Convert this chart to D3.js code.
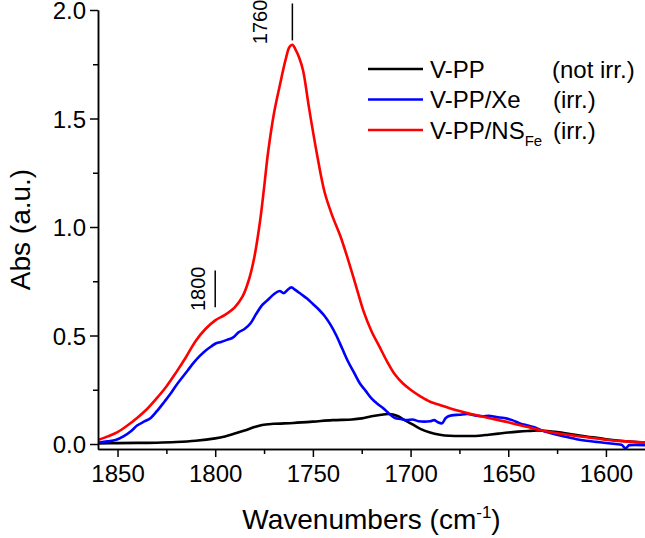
<!DOCTYPE html>
<html>
<head>
<meta charset="utf-8">
<script src="https://cdn.jsdelivr.net/npm/d3@7/dist/d3.min.js"></script>
<style>
  html, body { margin: 0; padding: 0; background: #fff; }
  svg { display: block; }
  text { font-family: "Liberation Sans", Arial, sans-serif; fill: #000; }
</style>
</head>
<body>
<svg id="chart" width="645" height="538"></svg>
<script>
// ---- data ----
const wavenumbersBlack = [1860,1850,1840,1830,1820,1810,1800,1795,1790,1785,1780,1776,1770,1760,1750,1740,1730,1725,1720,1715,1711,1707,1703,1699,1695,1690,1685,1680,1670,1665,1660,1655,1650,1645,1640,1635,1630,1625,1620,1610,1600,1590,1580];
const absBlack =        [0.003,0.004,0.005,0.006,0.009,0.015,0.026,0.035,0.048,0.062,0.078,0.088,0.093,0.097,0.103,0.110,0.113,0.118,0.128,0.135,0.138,0.130,0.110,0.090,0.070,0.053,0.043,0.038,0.037,0.038,0.043,0.048,0.053,0.057,0.060,0.062,0.060,0.055,0.048,0.035,0.022,0.013,0.007];

const wavenumbersBlue = [1860,1855,1851,1847,1843,1840,1836,1833,1830,1826,1823,1820,1817,1814,1811,1808,1805,1802,1800,1797,1794,1791,1788,1785,1782,1779,1776,1773,1770,1767,1765,1763,1761,1759,1756,1753,1750,1747,1744,1741,1738,1735,1732,1729,1726,1723,1720,1717,1714,1711,1708,1705,1702,1699,1696,1693,1690,1688,1686,1684,1682,1679,1675,1671,1667,1663,1660,1656,1652,1648,1644,1640,1636,1632,1628,1624,1620,1615,1610,1605,1600,1595,1592,1590,1588,1585,1580];
const absBlue =        [0.006,0.012,0.018,0.035,0.060,0.085,0.105,0.120,0.150,0.195,0.230,0.270,0.305,0.340,0.375,0.405,0.430,0.450,0.462,0.470,0.480,0.490,0.515,0.530,0.555,0.600,0.640,0.665,0.690,0.705,0.695,0.710,0.722,0.710,0.690,0.670,0.645,0.620,0.590,0.550,0.500,0.440,0.380,0.330,0.280,0.245,0.210,0.185,0.165,0.140,0.120,0.115,0.110,0.113,0.105,0.103,0.105,0.110,0.100,0.095,0.120,0.132,0.135,0.138,0.132,0.128,0.130,0.124,0.120,0.110,0.095,0.085,0.075,0.060,0.050,0.040,0.032,0.022,0.015,0.010,0.005,0.000,-0.003,-0.020,-0.005,-0.004,-0.005];

const wavenumbersRed = [1860,1855,1850,1845,1840,1835,1830,1825,1820,1815,1810,1805,1800,1795,1790,1786,1783,1780,1777,1775,1773,1770,1767,1764,1762,1760.5,1759,1757,1755,1752,1748,1744,1740,1736,1732,1728,1724,1720,1716,1712,1708,1704,1700,1695,1690,1685,1680,1675,1670,1665,1660,1655,1650,1645,1640,1635,1625,1613,1600,1590,1580];
const absRed =        [0.018,0.035,0.055,0.085,0.120,0.160,0.210,0.265,0.330,0.400,0.475,0.530,0.570,0.595,0.630,0.680,0.750,0.860,1.030,1.180,1.340,1.520,1.650,1.770,1.830,1.840,1.820,1.780,1.720,1.550,1.340,1.160,1.050,0.960,0.850,0.730,0.610,0.520,0.450,0.380,0.320,0.280,0.250,0.220,0.195,0.180,0.165,0.152,0.140,0.130,0.120,0.110,0.100,0.089,0.078,0.067,0.050,0.035,0.020,0.012,0.007];

const seriesNames = ["V-PP", "V-PP/Xe", "V-PP/NS"];
const seriesSubs = ["", "", "Fe"];
const seriesNotes = ["(not irr.)", "(irr.)", "(irr.)"];
const seriesColors = ["#000000", "#0000ff", "#ff0000"];

const xMajorTicks = [1850, 1800, 1750, 1700, 1650, 1600];
const xMinorTicks = [1825, 1775, 1725, 1675, 1625];
const yMajorTicks = [0.0, 0.5, 1.0, 1.5, 2.0];
const yMinorTicks = [0.25, 0.75, 1.25, 1.75];

const peakLabels = ["1760", "1800"];
const peakPositions = [1760.5, 1800];
const peakLineLow = [1.86, 0.63];
const peakLineHigh = [2.03, 0.80];

// ---- layout ----
const svg = d3.select("#chart");
const L = 98, R = 645, T = 10, B = 449;
const x = d3.scaleLinear().domain([1860, 1580]).range([L, R]);
const y = d3.scaleLinear().domain([-0.023, 2.0]).range([B, T]);

const font = "Liberation Sans, Arial, sans-serif";

svg.append("clipPath").attr("id", "clip")
  .append("rect").attr("x", L).attr("y", 0).attr("width", R - L).attr("height", B);

const series = [
  wavenumbersBlack.map((w, i) => [w, absBlack[i]]),
  wavenumbersBlue.map((w, i) => [w, absBlue[i]]),
  wavenumbersRed.map((w, i) => [w, absRed[i]])
];

const curves = [d3.curveCatmullRom.alpha(0.5), d3.curveMonotoneX, d3.curveCatmullRom.alpha(0.5)];

const gLines = svg.append("g").attr("clip-path", "url(#clip)");
series.forEach((s, i) => {
  const line = d3.line().x(d => x(d[0])).y(d => y(d[1])).curve(curves[i]);
  gLines.append("path").datum(s)
    .attr("fill", "none")
    .attr("stroke", seriesColors[i])
    .attr("stroke-width", 2.6)
    .attr("stroke-linejoin", "round")
    .attr("d", line);
});

// axes
const xAxis = svg.append("g").attr("transform", `translate(0,${B})`)
  .call(d3.axisBottom(x).tickValues(xMajorTicks).tickSize(8).tickSizeOuter(0).tickFormat(d3.format("d")));
const xAxisMinor = svg.append("g").attr("transform", `translate(0,${B})`)
  .call(d3.axisBottom(x).tickValues(xMinorTicks).tickSize(5).tickSizeOuter(0).tickFormat(""));
const yAxis = svg.append("g").attr("transform", `translate(${L},0)`)
  .call(d3.axisLeft(y).tickValues(yMajorTicks).tickSize(8).tickSizeOuter(0).tickFormat(d3.format(".1f")));
const yAxisMinor = svg.append("g").attr("transform", `translate(${L},0)`)
  .call(d3.axisLeft(y).tickValues(yMinorTicks).tickSize(5).tickSizeOuter(0).tickFormat(""));

[xAxis, xAxisMinor, yAxis, yAxisMinor].forEach(g => {
  g.selectAll("path.domain").attr("stroke", "#000").attr("stroke-width", 1.5);
  g.selectAll(".tick line").attr("stroke", "#000").attr("stroke-width", 1.5);
  g.selectAll(".tick text").attr("font-family", font).attr("font-size", 24).attr("fill", "#000");
});
xAxis.selectAll(".tick text").attr("y", 16).attr("dy", "0.71em");
yAxis.selectAll(".tick text").attr("x", -12).attr("dy", "0.37em");

// axis titles
const xt = svg.append("text")
  .attr("x", (L + R) / 2).attr("y", 529)
  .attr("text-anchor", "middle")
  .attr("font-size", 28);
xt.append("tspan").text("Wavenumbers (cm");
xt.append("tspan").text("-1").attr("font-size", 17).attr("dy", -11);
xt.append("tspan").text(")").attr("dy", 11);

svg.append("text")
  .attr("transform", `translate(30,${(T + B) / 2}) rotate(-90)`)
  .attr("text-anchor", "middle")
  .attr("font-size", 28)
  .text("Abs (a.u.)");

// peak annotations
const labelGap = [25, 10];
peakLabels.forEach((lab, i) => {
  const px = x(peakPositions[i]);
  svg.append("line")
    .attr("x1", px).attr("x2", px)
    .attr("y1", y(peakLineLow[i])).attr("y2", y(peakLineHigh[i]))
    .attr("stroke", "#000").attr("stroke-width", 1.5);
  const yc = (y(peakLineLow[i]) + y(peakLineHigh[i])) / 2;
  svg.append("text")
    .attr("transform", `translate(${px - labelGap[i]},${yc}) rotate(-90)`)
    .attr("text-anchor", "middle")
    .attr("font-size", 20)
    .text(lab);
});

// legend
const legY = [69, 99.5, 130];
seriesNames.forEach((name, i) => {
  svg.append("line")
    .attr("x1", 368).attr("x2", 423)
    .attr("y1", legY[i]).attr("y2", legY[i])
    .attr("stroke", seriesColors[i]).attr("stroke-width", 2.6);
  const t = svg.append("text").attr("x", 430).attr("y", legY[i] + 8.5).attr("font-size", 24);
  t.append("tspan").text(name);
  if (seriesSubs[i]) t.append("tspan").text(seriesSubs[i]).attr("font-size", 15).attr("dy", 7);
  svg.append("text").attr("x", i === 0 ? 552 : 553).attr("y", legY[i] + 8.5).attr("font-size", 24).text(seriesNotes[i]);
});
</script>
</body>
</html>
